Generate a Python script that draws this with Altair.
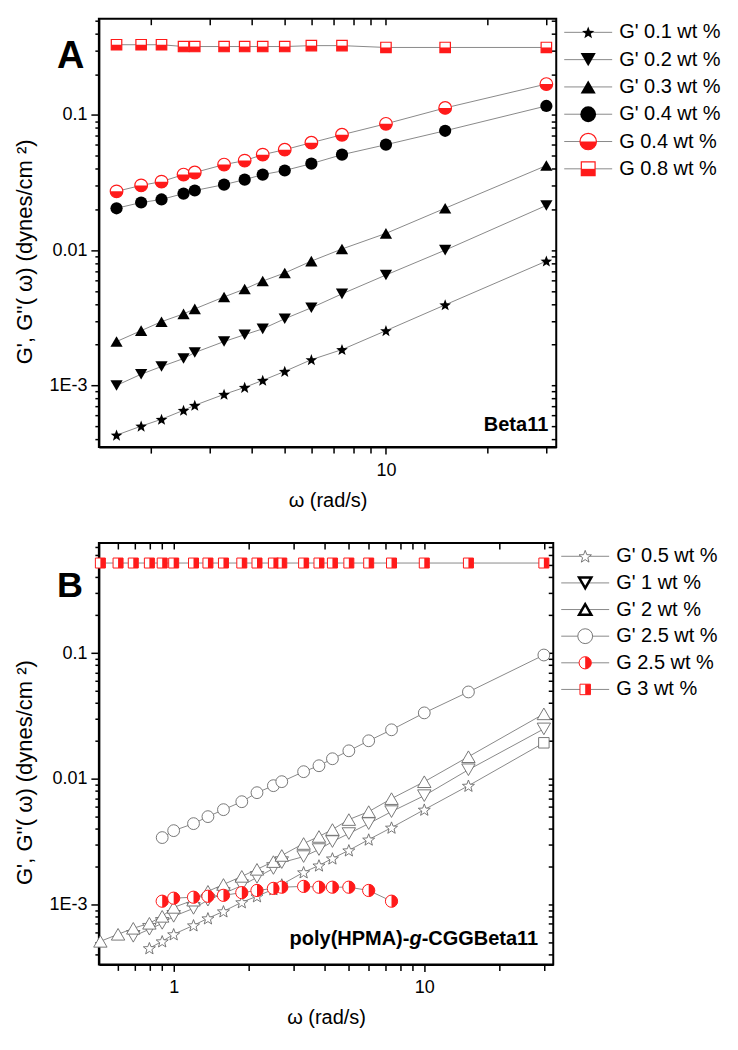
import math
import pandas as pd
import altair as alt

FONT = "Liberation Sans"
RED = "#ff1a1a"
LINE = "#8a8a8a"
OPEN = "#6a6a6a"

# ---------------- Panel A (Beta11) ----------------
A_X = [1.58, 1.87, 2.15, 2.5, 2.7, 3.3, 3.8, 4.3, 5.0, 6.0, 7.4, 10, 15, 30]
A_G1_01 = [0.000429, 0.000500, 0.000562, 0.000655, 0.000713, 0.000859, 0.000967,
           0.00109, 0.00127, 0.00155, 0.00184, 0.00254, 0.00394, 0.0083]
A_G1_02 = [0.00100, 0.00121, 0.00138, 0.00158, 0.00175, 0.00211, 0.00237,
           0.00262, 0.00311, 0.00375, 0.00475, 0.00655, 0.0100, 0.0214]
A_G1_03 = [0.00211, 0.00254, 0.00296, 0.00338, 0.00368, 0.00451, 0.00516,
           0.00591, 0.00678, 0.0083, 0.0102, 0.0133, 0.0204, 0.0422]
A_G1_04 = [0.0204, 0.0225, 0.0237, 0.0262, 0.0276, 0.0305, 0.0332,
           0.0362, 0.0388, 0.0436, 0.0508, 0.0602, 0.0763, 0.1164]
A_G2_04 = [0.0272, 0.0301, 0.0321, 0.0362, 0.0375, 0.0429, 0.0459,
           0.0508, 0.0553, 0.0623, 0.0713, 0.0859, 0.1125, 0.169]
A_G2_08 = [0.33, 0.33, 0.33, 0.32, 0.32, 0.32, 0.32,
           0.32, 0.32, 0.325, 0.325, 0.315, 0.315, 0.315]
A_NAMES = ["G' 0.1 wt %", "G' 0.2 wt %", "G' 0.3 wt %", "G' 0.4 wt %",
           "G 0.4 wt %", "G 0.8 wt %"]
A_XTICKS = [2, 3, 4, 5, 6, 7, 8, 9, 10, 20, 30]
A_XMAJOR = [10]
A_YMAJOR = [0.001, 0.01, 0.1]
A_YLABELS = ["1E-3", "0.01", "0.1"]

# ---------------- Panel B (poly(HPMA)-g-CGGBeta11) ----------------
B_X = [0.51, 0.6, 0.69, 0.8, 0.9, 1.0, 1.2, 1.37, 1.58, 1.87, 2.15,
       2.5, 2.7, 3.3, 3.8, 4.3, 5.0, 6.0, 7.4, 10, 15, 30]
B_X_05 = [0.8, 0.9, 1.0, 1.2, 1.37, 1.58, 1.87, 2.15, 2.5, 2.7, 3.3,
          3.8, 4.3, 5.0, 6.0, 7.4, 10, 15, 30]
B_G1_05 = [0.000448, 0.000508, 0.000578, 0.000681, 0.000774, 0.000880, 0.00104,
           0.00116, 0.00132, 0.00144, 0.00180, 0.00204, 0.00232, 0.00269,
           0.00328, 0.00408, 0.00567, 0.00879, 0.0193]
B_X_1 = [0.69, 0.8, 0.9, 1.0, 1.2, 1.37, 1.58, 1.87, 2.15, 2.5, 2.7, 3.3,
         3.8, 4.3, 5.0, 6.0, 7.4, 10, 15, 30]
B_G1_1 = [0.000557, 0.000634, 0.000706, 0.000803, 0.000929, 0.00108, 0.00122,
          0.00141, 0.00164, 0.00193, 0.00215, 0.00240, 0.00273, 0.00316,
          0.00366, 0.00439, 0.00547, 0.00733, 0.01178, 0.0249]
B_G1_2 = [0.000508, 0.000578, 0.000645, 0.000707, 0.000803, 0.000946, 0.00108,
          0.00127, 0.00144, 0.00167, 0.00190, 0.00219, 0.00245, 0.00305,
          0.00347, 0.00394, 0.00473, 0.00547, 0.00694, 0.00946, 0.01496, 0.0328]
B_X_25 = [0.9, 1.0, 1.2, 1.37, 1.58, 1.87, 2.15, 2.5, 2.7, 3.3, 3.8, 4.3,
          5.0, 6.0, 7.4, 10, 15, 30]
B_G1_25 = [0.0034, 0.00386, 0.00439, 0.00499, 0.00567, 0.00656, 0.00774,
           0.00880, 0.00947, 0.01137, 0.01268, 0.01441, 0.01667, 0.02003,
           0.02449, 0.0334, 0.0490, 0.0964]
B_X_25b = [0.9, 1.0, 1.2, 1.37, 1.58, 1.87, 2.15, 2.5, 2.7, 3.3, 3.8, 4.3,
           5.0, 6.0, 7.4]
B_G2_25 = [0.00106, 0.00112, 0.00114, 0.00116, 0.00118, 0.00124, 0.00129,
           0.00134, 0.00137, 0.00139, 0.00137, 0.00137, 0.00137, 0.00129, 0.00106]
B_G2_3 = [0.52, 0.52, 0.52, 0.52, 0.52, 0.52, 0.52, 0.52, 0.52, 0.52, 0.52,
          0.52, 0.52, 0.52, 0.52, 0.52, 0.52, 0.52, 0.52, 0.52, 0.52, 0.52]
B_NAMES = ["G' 0.5 wt %", "G' 1 wt %", "G' 2 wt %", "G' 2.5 wt %",
           "G 2.5 wt %", "G 3 wt %"]
B_XTICKS = [0.6, 0.7, 0.8, 0.9, 1, 2, 3, 4, 5, 6, 7, 8, 9, 10, 20, 30]
B_XMAJOR = [1, 10]
B_YMAJOR = [0.001, 0.01, 0.1]
B_YLABELS = ["1E-3", "0.01", "0.1"]

Y_TITLE = "G', G''( ω) (dynes/cm  ²)"
X_TITLE = "ω (rad/s)"


# ---------------- marker shapes ----------------
def star_path(inner=0.42, dy=0.09):
    pts = []
    for k in range(10):
        r = 1.0 if k % 2 == 0 else inner
        a = math.radians(-90 + 36 * k)
        pts.append(f"{r * math.cos(a):.3f},{r * math.sin(a) + dy:.3f}")
    return "M" + "L".join(pts) + "Z"


STAR = star_path()
HALF_BOTTOM_CIRCLE = "M-1,0A1,1,0,0,0,1,0Z"
HALF_RIGHT_CIRCLE = "M0,-1A1,1,0,0,1,0,1Z"
HALF_BOTTOM_SQUARE = "M-1,0L1,0L1,1L-1,1Z"
HALF_RIGHT_SQUARE = "M0,-1L1,-1L1,1L0,1Z"


def build_df(series):
    rows = []
    for i, (xs, ys) in enumerate(series):
        for x, y in zip(xs, ys):
            rows.append({"i": i, "x": x, "y": y})
    return pd.DataFrame(rows)


def minor_ticks(lo, hi):
    out = []
    for e in range(-5, 2):
        for m in range(1, 10):
            v = float(f"{m}e{e}")
            if lo <= v <= hi:
                out.append(v)
    return out


def label_expr(values, labels):
    expr = "''"
    for v, l in zip(values, labels):
        expr = f"datum.value == {v} ? '{l}' : ({expr})"
    return expr


def major_test(values):
    return " || ".join(f"datum.value == {v}" for v in values)


def point_layers(df, filt, xe, ye, spec):
    out = []
    for shape, size, fill, stroke, sw in spec:
        kw = dict(shape=shape, size=size, filled=True, fill=fill, opacity=1)
        if stroke:
            kw.update(stroke=stroke, strokeWidth=sw)
        else:
            kw.update(strokeWidth=0)
        out.append(alt.Chart(df).transform_filter(filt).mark_point(**kw).encode(x=xe, y=ye))
    return out


def text_layer(text, x, y, size, weight="bold", style="normal", align="left", angle=0,
               baseline="alphabetic"):
    kw = dict(text=text, fontSize=size, fontWeight=weight, fontStyle=style, align=align,
              baseline=baseline, font=FONT, color="black")
    if angle:
        kw["angle"] = angle
    return alt.Chart(pd.DataFrame({"t": [text]})).mark_text(**kw).encode(
        x=alt.value(x), y=alt.value(y))


def panel(df, specs, xdom, ydom, xticks, xmajor, ymajor, ylabels, w, h, extra):
    xs = alt.Scale(type="log", domain=xdom, nice=False)
    ys = alt.Scale(type="log", domain=ydom, nice=False)
    yticks = minor_ticks(ydom[0], ydom[1])
    xlabels = [str(v) for v in xmajor]
    x_axis = alt.Axis(orient="bottom", values=xticks, labelExpr=label_expr(xmajor, xlabels),
                      tickSize={"condition": {"test": major_test(xmajor), "value": 7}, "value": 6},
                      tickWidth=1.5, tickColor="black", domainColor="black", domainWidth=2,
                      labelFontSize=18, labelColor="black", labelPadding=7, labelFont=FONT,
                      grid=False, title=X_TITLE, titleFontSize=20, titleFontWeight="normal",
                      titleColor="black", titlePadding=11, titleFont=FONT)
    y_axis = alt.Axis(orient="left", values=yticks, labelExpr=label_expr(ymajor, ylabels),
                      tickSize={"condition": {"test": major_test(ymajor), "value": 8}, "value": 4},
                      tickWidth=1.5, tickColor="black", domainColor="black", domainWidth=2,
                      labelFontSize=18, labelColor="black", labelPadding=4, labelFont=FONT,
                      grid=False, title=None)
    top_axis = alt.Axis(orient="top", values=xticks, labels=False, tickSize=6, offset=-6,
                        domain=False, tickWidth=1.5, tickColor="black", grid=False, title=None)
    right_axis = alt.Axis(orient="right", values=yticks, labels=False, tickSize=5, offset=-5,
                          domain=False, tickWidth=1.5, tickColor="black", grid=False, title=None)

    lines = alt.Chart(df).mark_line(color=LINE, strokeWidth=1).encode(
        x=alt.X("x:Q", scale=xs, axis=x_axis),
        y=alt.Y("y:Q", scale=ys, axis=y_axis),
        detail="i:N",
    )
    frame = alt.Chart(df).mark_point(opacity=0).encode(
        x=alt.X("x:Q", scale=xs, axis=top_axis),
        y=alt.Y("y:Q", scale=ys, axis=right_axis),
    )
    xe = alt.X("x:Q", scale=xs, axis=None)
    ye = alt.Y("y:Q", scale=ys, axis=None)
    layers = [lines, frame]
    for filt, spec in specs:
        layers += point_layers(df, filt, xe, ye, spec)
    layers += extra
    layers.append(text_layer(Y_TITLE, -74, h / 2 + 19, 22, weight="normal", align="center",
                             angle=270, baseline="middle"))
    return alt.layer(*layers).resolve_axis(x="independent", y="independent").properties(
        width=w, height=h, view=alt.ViewBackground(stroke="black", strokeWidth=2))


def legend(names, specs, h):
    ldf = pd.DataFrame({"label": names, "i": list(range(len(names)))})
    Y = alt.Y("label:N", sort=names, axis=None, scale=alt.Scale(domain=names))
    layers = [alt.Chart(ldf).mark_rule(color=LINE, strokeWidth=1).encode(
        x=alt.value(0), x2=alt.value(48), y=Y)]
    for k, spec in enumerate(specs):
        for shape, size, fill, stroke, sw in spec:
            kw = dict(shape=shape, size=size, filled=True, fill=fill, opacity=1)
            if stroke:
                kw.update(stroke=stroke, strokeWidth=sw)
            else:
                kw.update(strokeWidth=0)
            layers.append(alt.Chart(ldf).transform_filter(alt.datum.i == k)
                          .mark_point(**kw).encode(x=alt.value(24), y=Y))
    layers.append(alt.Chart(ldf).mark_text(align="left", baseline="middle", font=FONT,
                                           fontSize=20, color="black")
                  .encode(x=alt.value(55), y=Y, text="label:N"))
    return alt.layer(*layers).properties(width=160, height=h,
                                         view=alt.ViewBackground(stroke="transparent"))


# ---------------- Panel A ----------------
dfA = build_df([(A_X, A_G1_01), (A_X, A_G1_02), (A_X, A_G1_03), (A_X, A_G1_04),
                (A_X, A_G2_04), (A_X, A_G2_08)])
specA = [
    [(STAR, 150, "black", None, 0)],
    [("triangle-down", 150, "black", None, 0)],
    [("triangle-up", 150, "black", None, 0)],
    [("circle", 150, "black", None, 0)],
    [("circle", 160, "white", RED, 1.2), (HALF_BOTTOM_CIRCLE, 160, RED, None, 0)],
    [("square", 110, "white", RED, 1.2), (HALF_BOTTOM_SQUARE, 110, RED, None, 0)],
]
legSpecA = [
    [(STAR, 170, "black", None, 0)],
    [("triangle-down", 230, "black", None, 0)],
    [("triangle-up", 230, "black", None, 0)],
    [("circle", 250, "black", None, 0)],
    [("circle", 270, "white", RED, 1.2), (HALF_BOTTOM_CIRCLE, 270, RED, None, 0)],
    [("square", 190, "white", RED, 1.2), (HALF_BOTTOM_SQUARE, 190, RED, None, 0)],
]
extraA = [
    text_layer("A", -42, 49, 38),
    text_layer("Beta11", 450, 413, 20, align="right"),
]
plotA = panel(dfA, [(alt.datum.i == k, s) for k, s in enumerate(specA)],
              [1.4, 32.1], [0.00035, 0.514], A_XTICKS, A_XMAJOR, A_YMAJOR, A_YLABELS,
              458, 429, extraA)
rowA = alt.hconcat(plotA, legend(A_NAMES, legSpecA, 164), spacing=5)

# ---------------- Panel B ----------------
dfB = build_df([(B_X_05, B_G1_05), (B_X_1, B_G1_1), (B_X, B_G1_2), (B_X_25, B_G1_25),
                (B_X_25b, B_G2_25), (B_X, B_G2_3)])
specB = [
    ((alt.datum.i == 0) & (alt.datum.x < 20), [(STAR, 160, "white", OPEN, 0.9)]),
    ((alt.datum.i == 0) & (alt.datum.x > 20), [("square", 110, "white", OPEN, 0.9)]),
    (alt.datum.i == 1, [("triangle-down", 180, "white", OPEN, 0.9)]),
    (alt.datum.i == 2, [("triangle-up", 180, "white", OPEN, 0.9)]),
    (alt.datum.i == 3, [("circle", 140, "white", OPEN, 0.9)]),
    (alt.datum.i == 4, [("circle", 150, "white", RED, 1.0), (HALF_RIGHT_CIRCLE, 150, RED, None, 0)]),
    (alt.datum.i == 5, [("square", 100, "white", RED, 1.0), (HALF_RIGHT_SQUARE, 100, RED, None, 0)]),
]
legSpecB = [
    [(STAR, 170, "white", OPEN, 0.9)],
    [("triangle-down", 150, "white", "black", 2.5)],
    [("triangle-up", 150, "white", "black", 2.5)],
    [("circle", 220, "white", OPEN, 0.9)],
    [("circle", 150, "white", RED, 1.0), (HALF_RIGHT_CIRCLE, 150, RED, None, 0)],
    [("square", 110, "white", RED, 1.0), (HALF_RIGHT_SQUARE, 110, RED, None, 0)],
]
extraB = [
    text_layer("B", -42, 54, 36),
    text_layer("poly(HPMA)-", 191, 403, 20),
    text_layer("g", 311, 403, 20, style="italic"),
    text_layer("-CGGBeta11", 323.2, 403, 20),
]
plotB = panel(dfB, specB, [0.503, 32.7], [0.000333, 0.751], B_XTICKS, B_XMAJOR,
              B_YMAJOR, B_YLABELS, 455, 422, extraB)
rowB = alt.hconcat(plotB, legend(B_NAMES, legSpecB, 160), spacing=5)

chart = alt.vconcat(rowA, rowB, spacing=30).properties(
    padding={"left": 5, "top": 8, "right": 5, "bottom": 5}
).configure_view(stroke="transparent").configure(font=FONT)

chart.save("out.html", embed_options={"renderer": "svg", "actions": False})
